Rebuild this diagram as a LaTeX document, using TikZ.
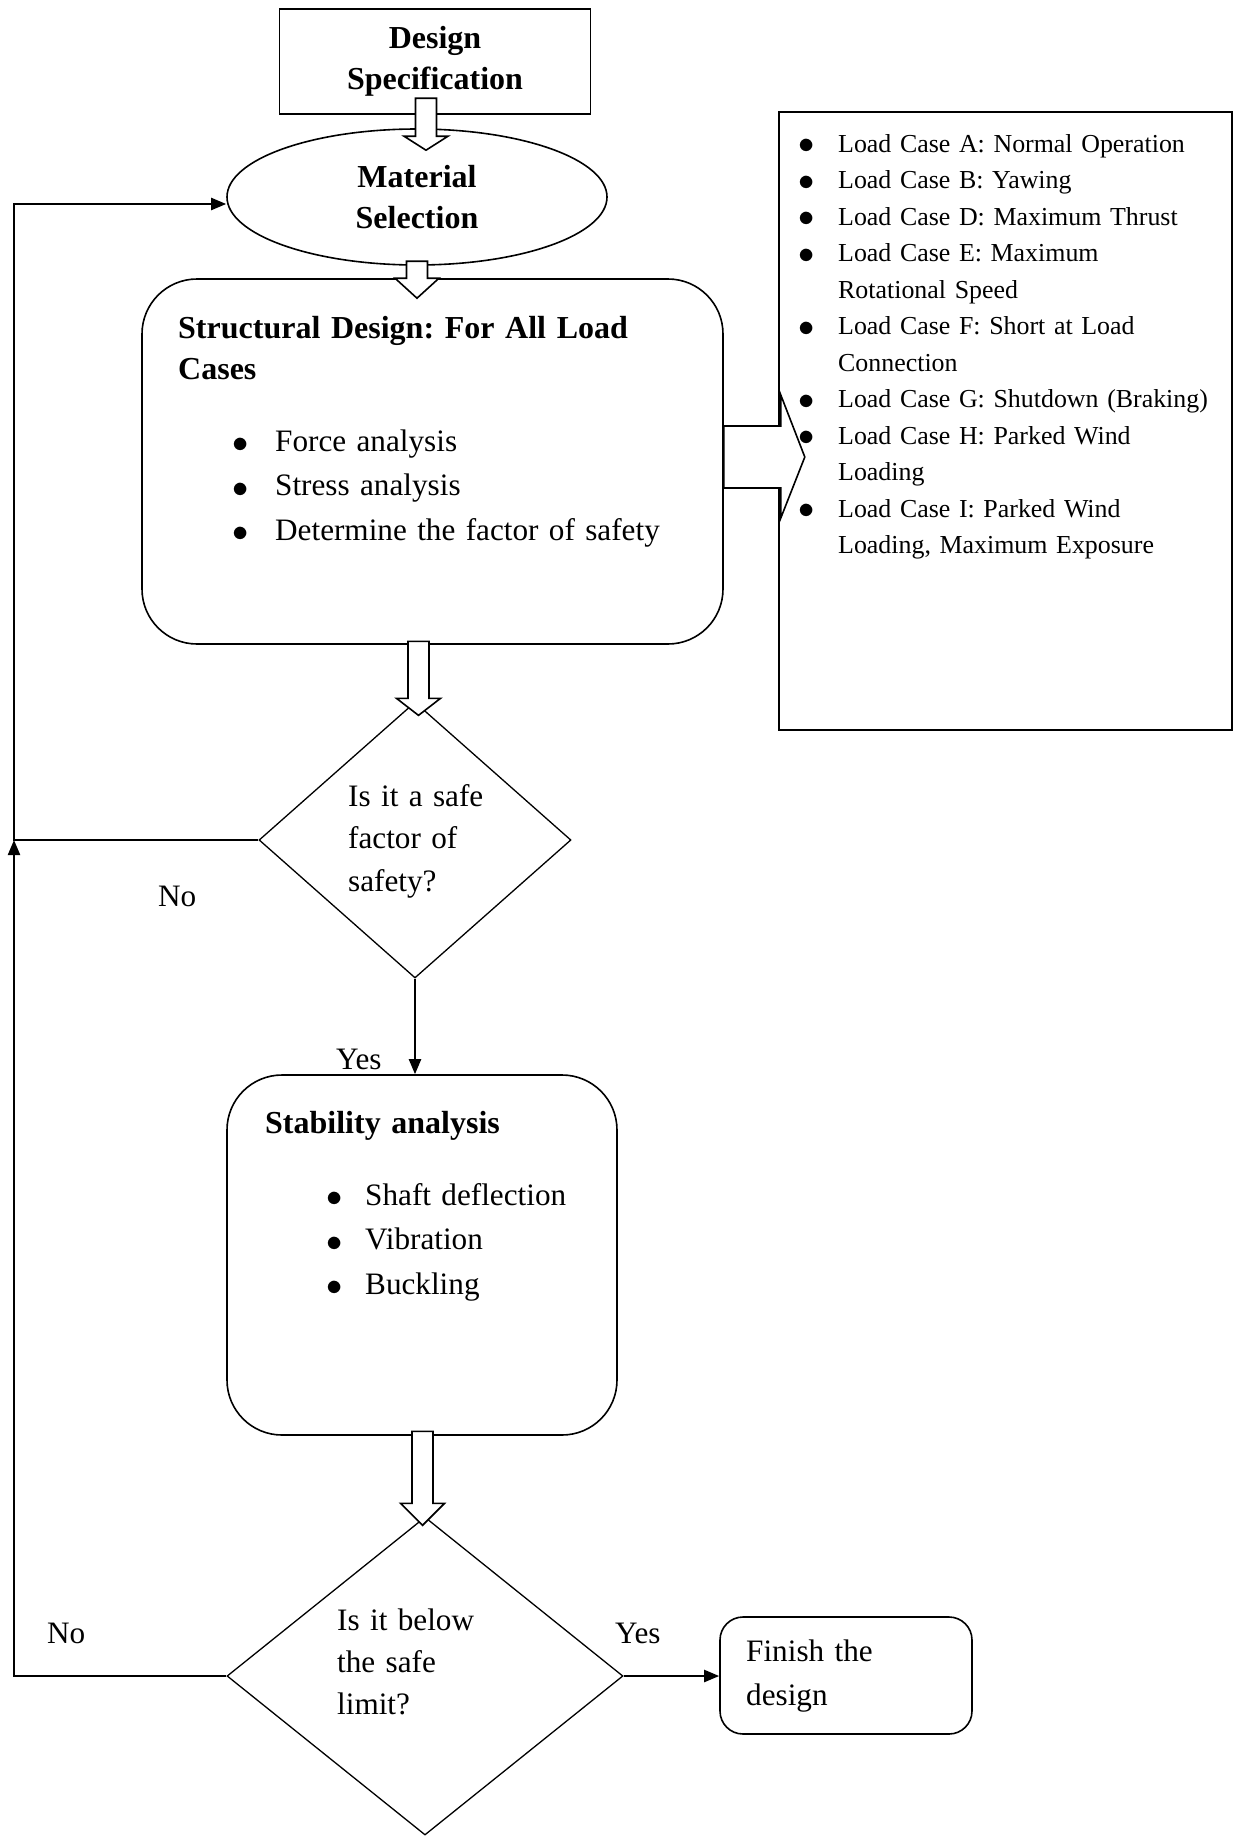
\documentclass[tikz,border=0pt]{standalone}
\usepackage{fontspec}
\setmainfont{Liberation Serif}
\usetikzlibrary{arrows.meta,shapes.geometric,calc}
\frenchspacing
\newcommand\bulletbox[1]{\makebox[#1][l]{\raisebox{-0.06em}{\scalebox{1.3}{$\bullet$}}}}
\begin{document}
\begin{tikzpicture}[x=1pt,y=-1pt,
  box/.style={draw,line width=1.6pt,inner sep=0pt},
  diam/.style={draw,diamond,line width=1.3pt,inner sep=0pt},
  big/.style={font=\fontsize{31.2}{42.5}\selectfont},
  bigbold/.style={font=\bfseries\fontsize{32}{41.5}\selectfont},
  txt/.style={inner sep=0pt,anchor=base west,align=left,text width=520pt},
  lbl/.style={inner sep=0pt,anchor=base west,font=\fontsize{31.2}{40}\selectfont},
  hollow/.style={draw,fill=white,line width=1.6pt,line join=miter},
  link/.style={line width=2.2pt},
  tip/.style={-{Triangle[length=15pt,width=12pt]}},
  pics/hollowdown/.style 2 args={code={
    \draw[hollow] (-10.5,-#1) -- (-10.5,-#2) -- (-22,-#2) -- (0,0)
      -- (22,-#2) -- (10.5,-#2) -- (10.5,-#1) -- cycle;}},
  pics/hollowright/.style={code={
    \draw[hollow] (0,-35.5) -- (57,-35.5) -- (57,-66.5) -- (81,-4.5)
      -- (57,56.5) -- (57,26.5) -- (0,26.5) -- cycle;}}
]
\useasboundingbox (0,0) rectangle (1237,1836);

% boxes and decisions
\node[box,bigbold,align=center,minimum width=311pt,minimum height=105pt]
  (spec) at (435,61.5) {Design\\Specification};
\node[box,ellipse,bigbold,align=center,minimum width=380pt,minimum height=136pt]
  (mat) at (417,197) {Material\\Selection};
\node[box,rounded corners=55pt,minimum width=581pt,minimum height=365pt]
  (struct) at (432.5,461.5) {};
\node[box,minimum width=453pt,minimum height=618pt] (loads) at (1005.5,421) {};
\node[diam,minimum width=312pt,minimum height=276pt] (dia1) at (415,840) {};
\node[box,rounded corners=55pt,minimum width=390pt,minimum height=360pt]
  (stab) at (422,1255) {};
\node[diam,minimum width=396pt,minimum height=318pt] (dia2) at (425,1676) {};
\node[box,rounded corners=23pt,minimum width=252pt,minimum height=117pt]
  (fin) at (846,1675.5) {};

% hollow block arrows between the stages
\pic at ($(mat.north)+(9,22)$) {hollowdown={52}{14}};
\pic at ($(struct.north)+(-15.5,20)$) {hollowdown={37}{20}};
\pic at ($(dia1.north)+(3.5,14)$) {hollowdown={74}{17}};
\pic at ($(dia2.north)+(-2.5,9)$) {hollowdown={94}{22}};
\pic at (struct.east) {hollowright};

% texts inside the boxes
\node[txt,bigbold] (structtitle) at (178,338) {Structural Design: For All Load\\Cases};
\node[txt,font=\fontsize{31.2}{44.5}\selectfont] (structlist) at (232.3,451)
  {\bulletbox{42.7pt}Force analysis\\
   \bulletbox{42.7pt}Stress analysis\\
   \bulletbox{42.7pt}Determine the factor of safety};
\node[txt,font=\fontsize{25.9}{36.5}\selectfont] (loadlist) at (798.7,152)
  {\bulletbox{39.3pt}Load Case A: Normal Operation\\
   \bulletbox{39.3pt}Load Case B: Yawing\\
   \bulletbox{39.3pt}Load Case D: Maximum Thrust\\
   \bulletbox{39.3pt}Load Case E: Maximum\\
   \hspace*{39.3pt}Rotational Speed\\
   \bulletbox{39.3pt}Load Case F: Short at Load\\
   \hspace*{39.3pt}Connection\\
   \bulletbox{39.3pt}Load Case G: Shutdown (Braking)\\
   \bulletbox{39.3pt}Load Case H: Parked Wind\\
   \hspace*{39.3pt}Loading\\
   \bulletbox{39.3pt}Load Case I: Parked Wind\\
   \hspace*{39.3pt}Loading, Maximum Exposure};
\node[txt,big] (q1) at (348,806) {Is it a safe\\factor of\\safety?};
\node[txt,bigbold] (stabtitle) at (265,1133) {Stability analysis};
\node[txt,font=\fontsize{31.2}{44.5}\selectfont] (stablist) at (326.3,1205)
  {\bulletbox{38.7pt}Shaft deflection\\
   \bulletbox{38.7pt}Vibration\\
   \bulletbox{38.7pt}Buckling};
\node[txt,font=\fontsize{31.2}{42}\selectfont] (q2) at (337,1630) {Is it below\\the safe\\limit?};
\node[txt,font=\fontsize{31.2}{44}\selectfont] (fintxt) at (746,1661) {Finish the\\design};

% connectors
\coordinate (loopA) at (14,204);
\draw[link,tip] (dia1.west) -| (loopA) -- (mat.west |- loopA);
\draw[link,tip] (dia2.west) -| (loopA |- dia1.west);
\draw[link,tip] (dia1.south) -- (dia1.south |- stab.north);
\draw[link,tip] (dia2.east) -- (fin.west |- dia2.east);

% branch labels
\node[lbl] (no1) at (158,906) {No};
\node[lbl] (yes1) at (336,1069) {Yes};
\node[lbl] (no2) at (47,1643) {No};
\node[lbl] (yes2) at (615,1643) {Yes};
\end{tikzpicture}
\end{document}
